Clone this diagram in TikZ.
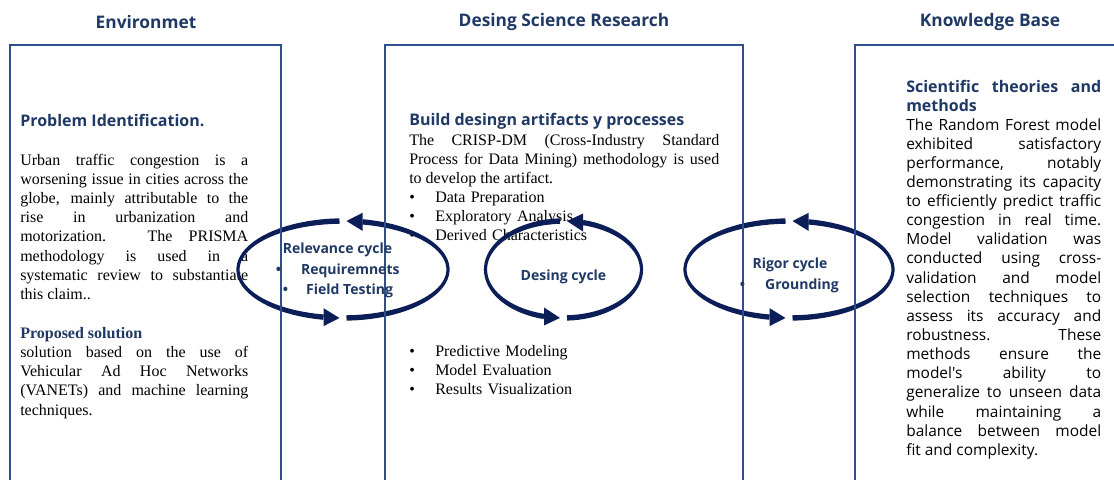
\documentclass[tikz,border=0pt]{standalone}
\usepackage{fontspec}
\setmainfont{Liberation Serif}
\setsansfont{Open Sans}[Ligatures=TeXOff]
\usetikzlibrary{positioning}

\definecolor{navy}{RGB}{31,56,100}
\definecolor{arrowblue}{RGB}{12,30,88}
\definecolor{framecol}{RGB}{47,78,140}

\tolerance=10000
\hyphenpenalty=10000
\exhyphenpenalty=10000

\newcommand{\itembul}{\makebox[19.5pt][l]{\textbullet}}

\tikzset{
  coltitle/.style={font=\sffamily\bfseries\fontsize{13}{15.6}\selectfont, text=navy},
  headsans/.style={font=\sffamily\bfseries\fontsize{12}{14.3}\selectfont, text=navy,
    inner sep=0pt, anchor=base west},
  headserif/.style={font=\bfseries\fontsize{12}{14.4}\selectfont, text=navy,
    inner sep=0pt, anchor=base west},
  serifbody/.style={font=\fontsize{12}{14.4}\selectfont, align=justify,
    inner sep=0pt, anchor=base west},
  listbody/.style={font=\fontsize{12}{14.4}\selectfont, align=left,
    text width=200pt, inner sep=0pt, anchor=base west},
  sansbody/.style={font=\sffamily\fontsize{11.6}{14.35}\selectfont, align=justify,
    text=black, inner sep=0pt, anchor=base west},
  cyclelabel/.style={font=\sffamily\bfseries\fontsize{10.5}{12}\selectfont, text=navy,
    inner sep=0pt},
  framebox/.style={framecol, line width=1pt}
}

\begin{document}
\begin{tikzpicture}[x=0.75pt, y=-0.75pt]
  \useasboundingbox (0,0) rectangle (1114,479);

  % column titles
  \node[coltitle] (envtitle) at (146,22) {Environmet};
  \node[coltitle] (dsrtitle) at (564,22) {Desing Science Research};
  \node[coltitle] (kbtitle) at (990,22) {Knowledge Base};

  % environment column
  \node[headsans] (probhead) at (20,126) {Problem Identification.};
  \node[serifbody, text width=171pt] (probtext) at (20,165)
    {Urban traffic congestion is a\linebreak
     worsening issue in cities across the\linebreak
     globe, mainly attributable to the\linebreak
     rise in urbanization and\linebreak
     motorization. The PRISMA\linebreak
     methodology is used in a\linebreak
     systematic review to substantiate\linebreak
     this claim..};
  \node[headserif] (solhead) at (20,338) {Proposed solution};
  \node[serifbody, text width=171pt] (soltext) at (20,357.4)
    {solution based on the use of\linebreak
     Vehicular Ad Hoc Networks\linebreak
     (VANETs) and machine learning\linebreak
     techniques.};

  % design science column
  \node[headsans] (buildhead) at (409,125) {Build desingn artifacts y processes};
  \node[serifbody, text width=232.5pt] (crisptext) at (409,145)
    {The CRISP-DM (Cross-Industry Standard\linebreak
     Process for Data Mining) methodology is used\linebreak
     to develop the artifact.};
  \node[listbody] (prepsteps) at (409,202.3)
    {\itembul Data Preparation\\
     \itembul Exploratory Analysis\\
     \itembul Derived Characteristics};
  \node[listbody] (modelsteps) at (409,356)
    {\itembul Predictive Modeling\\
     \itembul Model Evaluation\\
     \itembul Results Visualization};

  % knowledge base column
  \node[headsans, align=justify, text width=146.25pt] (scihead) at (906,92.3)
    {Scientific theories and\linebreak methods};
  \node[sansbody, text width=146.25pt] (scitext) at (906,130)
    {The Random Forest model\linebreak
     exhibited satisfactory\linebreak
     performance, notably\linebreak
     demonstrating its capacity\linebreak
     to efficiently predict traffic\linebreak
     congestion in real time.\linebreak
     Model validation was\linebreak
     conducted using cross-\linebreak
     validation and model\linebreak
     selection techniques to\linebreak
     assess its accuracy and\linebreak
     robustness. These\linebreak
     methods ensure the\linebreak
     model's ability to\linebreak
     generalize to unseen data\linebreak
     while maintaining a\linebreak
     balance between model\linebreak
     fit and complexity.};

  % cycle rings: two tapered arcs with a head each
  \foreach \cx/\rx in {343/105, 563.5/78, 789/104}{
    \pgfmathsetmacro{\ta}{acos(3.5/\rx)}
    \pgfmathsetmacro{\tb}{acos(19.5/\rx)}
    \pgfmathsetmacro{\tya}{48.5*sin(\ta)}
    \pgfmathsetmacro{\tyb}{48.5*sin(\tb)}
    % right half, bottom up to the top
    \fill[arrowblue]
      plot[domain=\ta:-\tb, samples=40] ({\cx+(\rx+1.6)*cos(\x)}, {269.5+51.2*sin(\x)})
      -- plot[domain=-\tb:\ta, samples=40] ({\cx+(\rx-1.6)*cos(\x)}, {269.5+45.8*sin(\x)})
      -- cycle;
    \fill[arrowblue] ({\cx+3.5},{269.5-\tya}) -- ({\cx+19.5},{269.5-\tyb-9})
      -- ({\cx+19.5},{269.5-\tyb+9}) -- cycle;
    % left half, top down to the bottom
    \fill[arrowblue]
      plot[domain=180+\ta:180-\tb, samples=40] ({\cx+(\rx+1.6)*cos(\x)}, {269.5+51.2*sin(\x)})
      -- plot[domain=180-\tb:180+\ta, samples=40] ({\cx+(\rx-1.6)*cos(\x)}, {269.5+45.8*sin(\x)})
      -- cycle;
    \fill[arrowblue] ({\cx-3.5},{269.5+\tya}) -- ({\cx-19.5},{269.5+\tyb-9})
      -- ({\cx-19.5},{269.5+\tyb+9}) -- cycle;
  }

  % column frames (open at the bottom)
  \draw[framebox] (10,485) |- (281,45) -- (281,485);
  \draw[framebox] (385,485) |- (743,45) -- (743,485);
  \draw[framebox] (855,485) |- (1120,45);

  % cycle labels
  \node[cyclelabel, anchor=base] (relname) at (337.5,253) {Relevance cycle};
  \node[cyclelabel, anchor=base west] (relreq) at (275.5,274)
    {\makebox[19pt][l]{\textbullet}Requiremnets};
  \node[cyclelabel, anchor=base west] (relfield) at (282.5,294)
    {\makebox[17.6pt][l]{\textbullet}Field Testing};
  \node[cyclelabel, anchor=base] (desname) at (563.5,280) {Desing cycle};
  \node[cyclelabel, anchor=base] (rigname) at (790,268) {Rigor cycle};
  \node[cyclelabel, anchor=base west] (rigground) at (739.5,289)
    {\makebox[19.1pt][l]{\textbullet}Grounding};
\end{tikzpicture}
\end{document}
